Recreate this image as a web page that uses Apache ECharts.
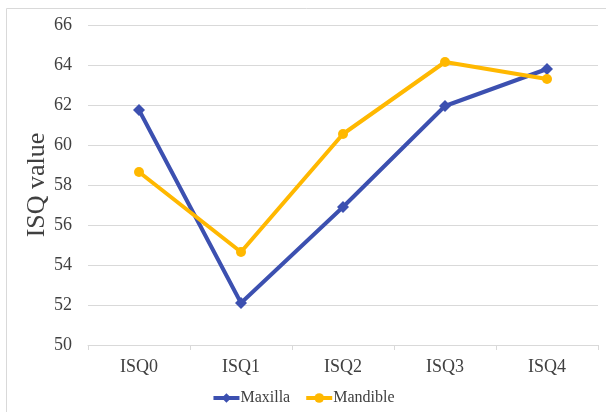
<!DOCTYPE html>
<html><head><meta charset="utf-8">
<script src="https://cdn.jsdelivr.net/npm/echarts@6/dist/echarts.min.js"></script>
<style>html,body{margin:0;padding:0;background:#fff}#c{width:606px;height:412px}</style>
</head><body><div id="c"></div>
<script>
var categories = ['ISQ0','ISQ1','ISQ2','ISQ3','ISQ4'];
var maxilla = [61.75, 52.1, 56.9, 61.95, 63.8];
var mandible = [58.65, 54.65, 60.55, 64.15, 63.3];
var yTicks = {min: 50, max: 66, interval: 2};

var chart = echarts.init(document.getElementById('c'));
var font = '"Liberation Serif", "Times New Roman", serif';
chart.setOption({
  animation: false,
  textStyle: {fontFamily: font},
  graphic: [{type: 'rect', shape: {x: 6.5, y: 8.5, width: 620, height: 420}, style: {fill: 'none', stroke: '#d9d9d9', lineWidth: 1}}],
  grid: {left: 88, right: 8, top: 25, bottom: 67},
  legend: {
    bottom: 1, left: 'center', itemWidth: 26, itemHeight: 12, itemGap: 14,
    lineStyle: {width: 4},
    textStyle: {fontFamily: font, fontSize: 16, color: '#404040', padding: [0,0,0,-4]},
    data: ['Maxilla', 'Mandible']
  },
  xAxis: {
    type: 'category', data: categories, boundaryGap: true,
    axisLine: {lineStyle: {color: '#d9d9d9', width: 1}},
    axisTick: {show: true, length: 5, lineStyle: {color: '#d9d9d9'}},
    axisLabel: {fontFamily: font, fontSize: 18, color: '#404040', margin: 13}
  },
  yAxis: {
    type: 'value', min: yTicks.min, max: yTicks.max, interval: yTicks.interval,
    name: 'ISQ value', nameLocation: 'middle', nameGap: 38, nameMoveOverlap: false,
    nameTextStyle: {fontFamily: font, fontSize: 26, color: '#404040'},
    axisLine: {show: false}, axisTick: {show: false},
    splitLine: {lineStyle: {color: '#d9d9d9', width: 1}},
    axisLabel: {fontFamily: font, fontSize: 18, color: '#404040', margin: 16}
  },
  series: [
    {name: 'Maxilla', type: 'line', data: maxilla, symbol: 'diamond', symbolSize: 12,
     lineStyle: {color: '#3c50b0', width: 4}, itemStyle: {color: '#3c50b0'}},
    {name: 'Mandible', type: 'line', data: mandible, symbol: 'circle', symbolSize: 10,
     lineStyle: {color: '#ffb800', width: 4}, itemStyle: {color: '#ffb800'}}
  ]
});
</script></body></html>
